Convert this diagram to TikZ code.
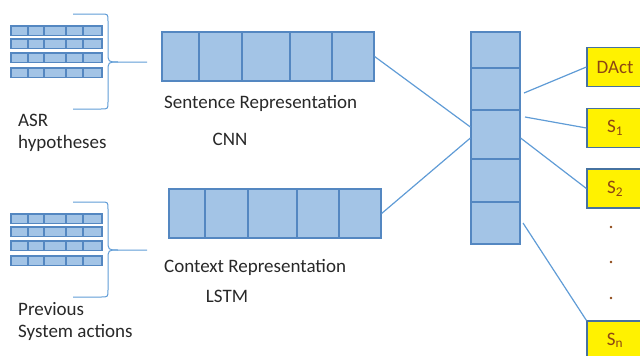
\documentclass[tikz,border=0pt]{standalone}
\usepackage{fontspec}
\setmainfont{Carlito}
\usetikzlibrary{positioning}
\definecolor{cellfill}{RGB}{163,196,230}
\definecolor{celledge}{RGB}{84,135,193}
\definecolor{linkblue}{RGB}{96,156,214}
\definecolor{outedge}{RGB}{70,114,160}
\definecolor{outtext}{RGB}{140,70,20}
\definecolor{labeltext}{RGB}{40,40,40}
\tikzset{vecbox/.style={draw=celledge, fill=cellfill, line width=1.2pt, inner sep=0pt}}
\tikzset{cellline/.style={draw=celledge, line width=1.2pt}}
\tikzset{link/.style={draw=linkblue, line width=1.2pt}}
\tikzset{brace/.style={draw=linkblue, line width=1pt}}
\tikzset{outbox/.style={draw=outedge, fill=yellow, line width=1.2pt, minimum width=56pt, minimum height=39pt, text=outtext, inner sep=0pt}}
\tikzset{lbl/.style={text=labeltext, inner sep=0pt, anchor=base west, align=left}}

\begin{document}
\begin{tikzpicture}[x=1pt, y=-1pt, font=\fontsize{19}{22}\selectfont]
\clip (0,0) rectangle (640,356);
% stacked input vectors with their braces
\foreach \dy in {0,188} {
  \foreach \y in {26,39,53,68} {
    \draw[vecbox] (11,\y+\dy) rectangle ++(91,9.5);
    \foreach \x in {28,44,66,83} \draw[cellline] (\x,\y+\dy) -- ++(0,9.5);
  }
  \draw[brace] (73,14+\dy) -- (101,14+\dy) .. controls (108,14+\dy) .. (108,21+\dy) -- (108,52+\dy) .. controls (108,62+\dy) .. (118,62+\dy) -- (147,62+\dy);
  \draw[brace] (118,62+\dy) .. controls (108,62+\dy) .. (108,72+\dy) -- (108,102+\dy) .. controls (108,109+\dy) .. (101,109+\dy) -- (73,109+\dy);
}
\node[lbl] (asr) at (18,148) {ASR\\hypotheses};
\node[lbl] (prev) at (18,337) {Previous\\System actions};
% representations
\node[vecbox, minimum width=212pt, minimum height=49pt] (sent) at (268,56.5) {};
\foreach \x in {199,242,290,332} \draw[cellline] (\x,0 |- sent.north) -- (\x,0 |- sent.south);
\node[lbl] (sentlbl) at (164,108) {Sentence Representation};
\node[lbl, anchor=base] (cnn) at (230,145) {CNN};
\node[vecbox, minimum width=212pt, minimum height=49pt] (ctx) at (275,213.5) {};
\foreach \x in {205,248,297,339} \draw[cellline] (\x,0 |- ctx.north) -- (\x,0 |- ctx.south);
\node[lbl] (ctxlbl) at (164,272) {Context Representation};
\node[lbl, anchor=base] (lstm) at (227,302) {LSTM};
% joint layer
\node[vecbox, minimum width=49pt, minimum height=212pt] (hid) at (495.5,138) {};
\foreach \y in {68,110,159,202} \draw[cellline] (hid.west |- 0,\y) -- (hid.east |- 0,\y);
\draw[link] (sent.east) -- ([yshift=11pt]hid.west);
\draw[link] (ctx.east) -- (hid.west);
% outputs
\node[outbox] (dact) at (615,67) {DAct};
\node[outbox] (s1) at (615,128) {S\textsubscript{1}};
\node[outbox] (s2) at (615,188.5) {S\textsubscript{2}};
\node[outbox] (sn) at (615,340.5) {S\textsubscript{n}};
\foreach \y in {227,262,298} \fill[outtext] (611,\y) circle (1.4pt);
\coordinate (o1) at (524,93);
\coordinate (o2) at (525,117);
\coordinate (o4) at (523,223);
\draw[link] (o1) -- (dact.west);
\draw[link] (o2) -- (s1.west);
\draw[link] (hid.east) -- (s2.west);
\draw[link] (o4) -- (sn.north west);
\end{tikzpicture}
\end{document}
